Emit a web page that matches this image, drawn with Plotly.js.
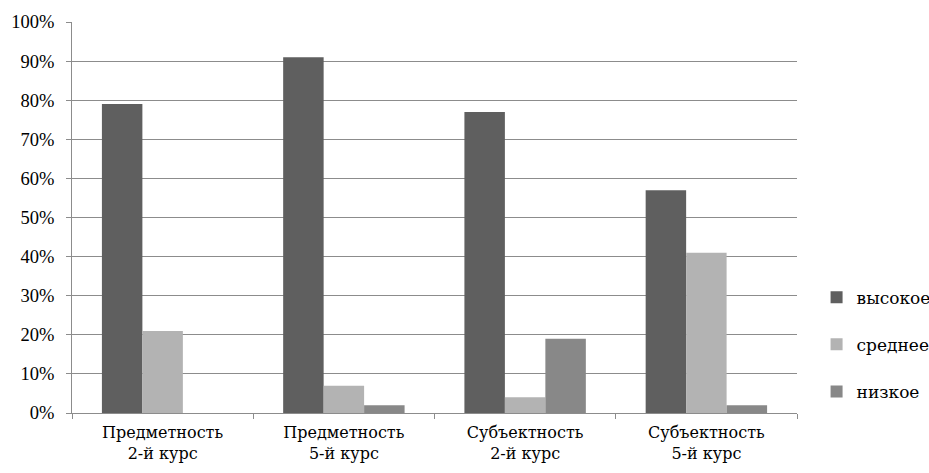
<!DOCTYPE html>
<html>
<head>
<meta charset="utf-8">
<script src="https://cdn.plot.ly/plotly-3.0.1.min.js"></script>
<style>html,body{margin:0;padding:0;background:#fff;}#chart{width:929px;height:473px;}</style>
</head>
<body>
<div id="chart"></div>
<script>
const categories = ["Предметность<br>2-й курс", "Предметность<br>5-й курс", "Субъектность<br>2-й курс", "Субъектность<br>5-й курс"];
const seriesNames = ["высокое", "среднее", "низкое"];
const highValues = [0.79, 0.91, 0.77, 0.57];
const midValues = [0.21, 0.07, 0.04, 0.41];
const lowValues = [0.00, 0.02, 0.19, 0.02];
const yTickValues = [0, 0.1, 0.2, 0.3, 0.4, 0.5, 0.6, 0.7, 0.8, 0.9, 1.0];
const yTickLabels = ["0%", "10%", "20%", "30%", "40%", "50%", "60%", "70%", "80%", "90%", "100%"];
const colors = ["#5f5f5f", "#b3b3b3", "#888888"];

const allValues = [highValues, midValues, lowValues];
const traces = allValues.map((vals, i) => ({
  type: "bar",
  name: seriesNames[i],
  x: categories,
  y: vals,
  marker: {color: colors[i], line: {width: 0}},
  legendgroup: "g" + i,
  hoverinfo: "x+y"
}));

const layout = {
  width: 929,
  height: 473,
  margin: {l: 72, r: 132, t: 22, b: 60, autoexpand: false},
  paper_bgcolor: "#ffffff",
  plot_bgcolor: "#ffffff",
  barmode: "group",
  bargap: 0.33,
  bargroupgap: 0,
  font: {family: "DejaVu Serif, serif", size: 16, color: "#000"},
  xaxis: {
    showgrid: false,
    showline: true,
    linecolor: "#8c8c8c",
    linewidth: 1,
    ticks: "outside",
    tickson: "boundaries",
    ticklen: 5,
    tickcolor: "#8c8c8c",
    ticklabelstandoff: 5,
    tickfont: {family: "DejaVu Serif, serif", size: 16, color: "#000"}
  },
  yaxis: {
    range: [0, 1],
    tickvals: yTickValues,
    ticktext: yTickLabels,
    showgrid: true,
    gridcolor: "#8c8c8c",
    gridwidth: 1,
    showline: true,
    linecolor: "#8c8c8c",
    linewidth: 1,
    ticks: "outside",
    ticklen: 5,
    tickcolor: "#8c8c8c",
    ticklabelstandoff: 8,
    zeroline: false,
    tickfont: {family: "Liberation Serif, serif", size: 18.5, color: "#000"}
  },
  showlegend: true,
  legend: {
    x: 1.027,
    xanchor: "left",
    y: 0.341,
    yanchor: "top",
    traceorder: "grouped",
    tracegroupgap: 22,
    itemwidth: 30,
    font: {family: "DejaVu Serif, serif", size: 17, color: "#000"},
    bgcolor: "rgba(0,0,0,0)"
  }
};

Plotly.newPlot("chart", traces, layout, {displayModeBar: false, staticPlot: true});
</script>
</body>
</html>
